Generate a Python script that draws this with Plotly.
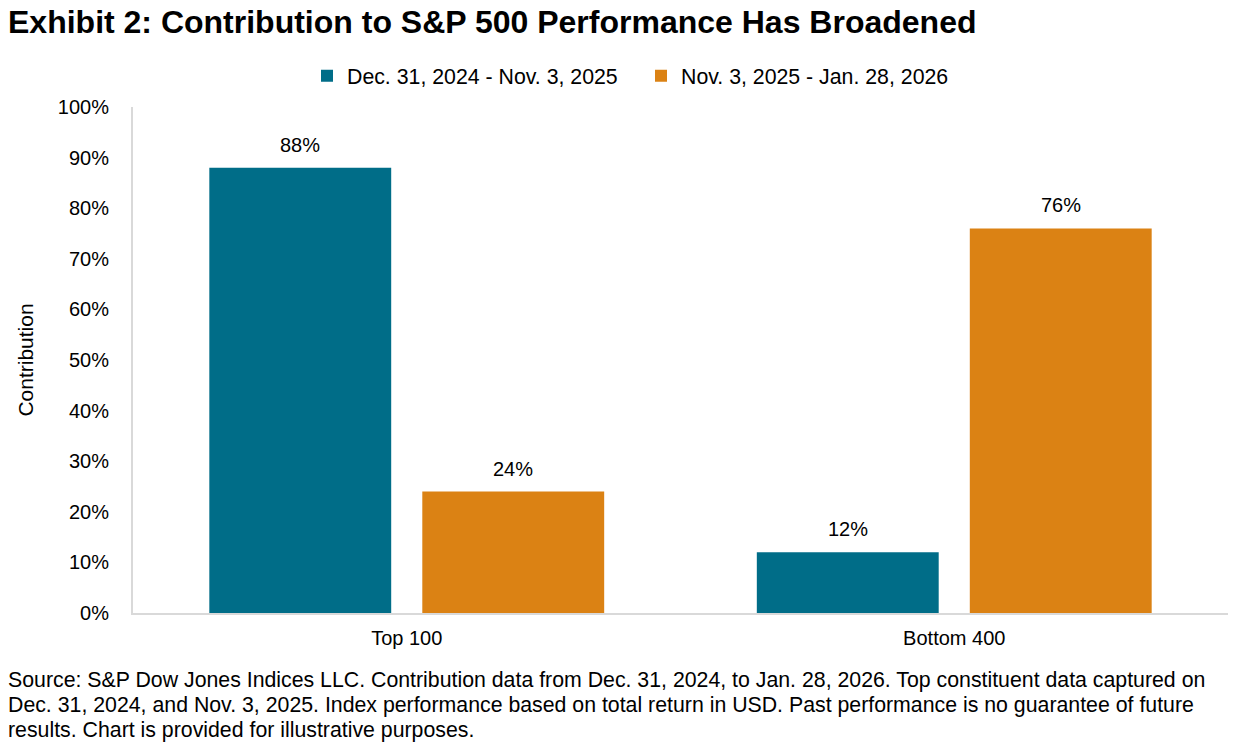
import plotly.graph_objects as go

categories = ["Top 100", "Bottom 400"]
series_names = ["Dec. 31, 2024 - Nov. 3, 2025", "Nov. 3, 2025 - Jan. 28, 2026"]
period1 = [88, 12]
period2 = [24, 76]
y_ticks = list(range(0, 101, 10))
footnote_lines = [
    "Source: S&P Dow Jones Indices LLC. Contribution data from Dec. 31, 2024, to Jan. 28, 2026. Top constituent data captured on",
    "Dec. 31, 2024, and Nov. 3, 2025. Index performance based on total return in USD. Past performance is no guarantee of future",
    "results. Chart is provided for illustrative purposes.",
]

colors = ["#006D88", "#DB8214"]
FONT = "Liberation Sans, Arial, sans-serif"
BARGAP = 0.222
BARGROUPGAP = 0.146
W, H = 1239, 745
M = dict(l=133, r=11, t=107, b=132)
PH = H - M["t"] - M["b"]
PW = W - M["l"] - M["r"]

fig = go.Figure()
for name, vals, col in zip(series_names, [period1, period2], colors):
    fig.add_trace(go.Bar(x=categories, y=vals, name=name, marker=dict(color=col, line=dict(width=0)),
                         hoverinfo="skip"))

# data labels above bars
n = len(series_names)
slot = (1 - BARGAP) / n
for si, vals in enumerate([period1, period2]):
    off = -(1 - BARGAP) / 2 + slot * (si + 0.5)
    for ci, v in enumerate(vals):
        fig.add_annotation(x=ci + off, y=v, xref="x", yref="y", text=f"{v}%", showarrow=False,
                           yanchor="bottom", yshift=10, font=dict(size=20, color="#000000", family=FONT))

line_centers = [680, 705, 730]
for txt, yc in zip(footnote_lines, line_centers):
    fig.add_annotation(
        xref="paper", yref="paper", x=(6 - M["l"]) / PW, y=(H - M["b"] - yc) / PH,
        xanchor="left", yanchor="middle", align="left",
        showarrow=False, font=dict(size=21.3, color="#000000", family=FONT), text=txt)

fig.update_layout(
    width=W, height=H,
    margin=M,
    paper_bgcolor="white", plot_bgcolor="white",
    font=dict(family=FONT, size=20, color="#000000"),
    title=dict(text="<b>Exhibit 2: Contribution to S&P 500 Performance Has Broadened</b>",
               x=8/W, xanchor="left", xref="container", y=1-22/H, yanchor="middle", yref="container",
               font=dict(size=32, family=FONT, color="#000000")),
    barmode="group", bargap=BARGAP, bargroupgap=BARGROUPGAP,
    legend=dict(orientation="h", x=(307 - M["l"]) / PW, xanchor="left", y=1 + 31/PH, yanchor="middle",
                font=dict(size=21.3, family=FONT), itemwidth=30, entrywidth=289, traceorder="normal"),
    showlegend=True,
)
fig.update_xaxes(showline=True, linecolor="#D9D9D9", linewidth=2, showgrid=False, ticks="",
                 ticklabelstandoff=6, tickfont=dict(size=20))
fig.update_yaxes(range=[0, 100], tickvals=y_ticks, ticktext=[f"{t}%" for t in y_ticks],
                 showline=True, linecolor="#D9D9D9", linewidth=2, showgrid=False, zeroline=False,
                 ticks="", ticklabelstandoff=18, tickfont=dict(size=20),
                 title=dict(text="Contribution", standoff=18, font=dict(size=21)))

fig.write_html("out.html", config={"displayModeBar": False},
               post_script="document.body.style.margin='0px';")
